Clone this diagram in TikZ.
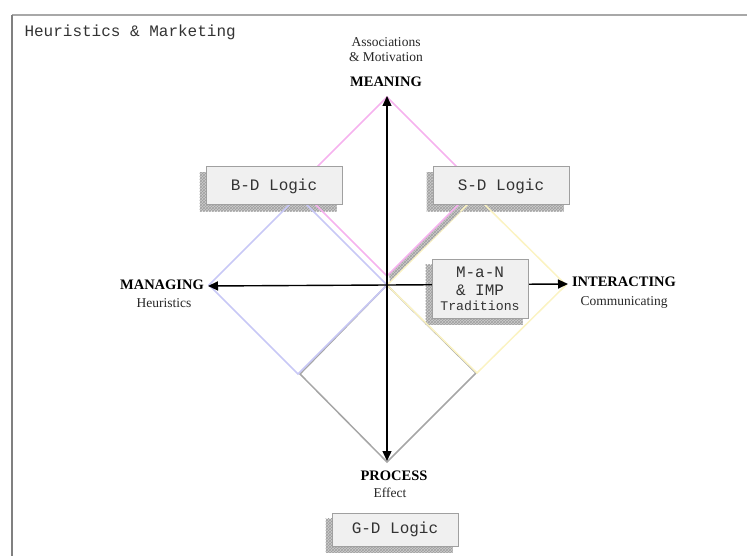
\documentclass[tikz,border=0pt]{standalone}
\usepackage{fontspec}
\setmainfont{Liberation Serif}
\newfontfamily\monofont{Liberation Mono}
\usetikzlibrary{arrows.meta,patterns,backgrounds}
\definecolor{framegray}{HTML}{A8A8A8}
\definecolor{frameleft}{HTML}{808080}
\definecolor{boxfill}{HTML}{F0F0F0}
\definecolor{boxline}{HTML}{A0A0A0}
\definecolor{meaningpink}{HTML}{F6B2EE}
\definecolor{managinglav}{HTML}{C8C8F6}
\definecolor{interactyel}{HTML}{FBF3C2}
\definecolor{processgray}{HTML}{A6A6A6}
\tikzset{
  logicbox/.style={draw=boxline, line width=1pt, fill=boxfill, inner sep=0pt,
    font=\fontsize{16}{18}\selectfont\monofont, text=black!80},
  hatchband/.style={fill=gray!40, postaction={pattern=crosshatch, pattern color=gray!75}},
  axis/.style={line width=1.4pt, -{Triangle[length=10pt,width=9pt]}},
  quad/.style={line width=1.5pt, line join=miter},
  small/.style={font=\fontsize{13.5}{15}\selectfont, anchor=base, text=black!85},
  heading/.style={font=\fontsize{14.5}{16}\selectfont\bfseries, anchor=base},
}
\begin{document}
\begin{tikzpicture}[x=1pt,y=-1pt]
\useasboundingbox (0,0) rectangle (747,556);

% frame edges
\draw[framegray, line width=1.5pt] (12,15) -- (747,15);
\draw[frameleft, line width=1.5pt] (12,15) -- (12,556);
\node[font=\fontsize{16}{18}\selectfont\monofont, text=black!80, anchor=base west] (title) at (21,37) {Heuristics \& Marketing};

% centre of the cross
\coordinate (c) at (387,285);

% the four quadrant diamonds (process first, so the others sit on top)
\draw[quad, processgray] (c) -- (300,374) -- (387,462) -- (476,373) -- cycle;
\draw[quad, managinglav] (c) -- (298,196) -- (209,285) -- (298,374) -- cycle;
\draw[quad, interactyel] (c) -- (476,196) -- (566,285) -- (477,373) -- cycle;
% shaded band between the meaning and interacting edges
\path[hatchband] (390,281) -- (389,274) -- (454,210) -- (461,211) -- cycle;
\draw[quad, meaningpink] (387,276) coordinate (pB) -- (297.5,186.5) coordinate (pL)
  -- (387,97) coordinate (pT) -- (476.5,186.5) coordinate (pR) -- cycle;

% axes
\coordinate (tipN) at (387,96);
\coordinate (tipS) at (387,461);
\coordinate (tipW) at (208,286);
\coordinate (tipE) at (568,284);
\draw[axis] (c) -- (tipN);
\draw[axis] (c) -- (tipS);
\draw[axis] (c) -- (tipW);
\draw[axis] (c) -- (tipE);

% axis labels
\node[small] (assoc) at (386,47) {Associations};
\node[small] (motiv) at (386,62) {\& Motivation};
\node[heading] (meaning) at (386,87) {MEANING};
\node[heading] (managing) at (162,289) {MANAGING};
\node[small] (heur) at (164,307) {Heuristics};
\node[heading] (interacting) at (624,287) {INTERACTING};
\node[small] (comm) at (624,305) {Communicating};
\node[heading] (process) at (394,480) {PROCESS};
\node[small] (effect) at (390,497) {Effect};

% logic boxes
\node[logicbox, minimum width=136pt, minimum height=38pt] (bd) at (274,186) {B-D Logic};
\node[logicbox, minimum width=136pt, minimum height=38pt] (sd) at (501,186) {S-D Logic};
\node[logicbox, minimum width=96pt, minimum height=59pt, align=center] (man) at (480,288.5)
  {M-a-N\\[0pt]\& IMP\\[-3pt]{\fontsize{13.2}{15}\selectfont Traditions}};
\node[logicbox, minimum width=126pt, minimum height=33pt] (gd) at (395,529.5) {G-D Logic};

% drop shadows behind the boxes
\begin{scope}[on background layer]
\foreach \b in {bd,sd,man,gd}{
  \path[hatchband] ([shift={(-6,6)}]\b.south west) rectangle ([shift={(-6,6)}]\b.north east);
}
\end{scope}
\end{tikzpicture}
\end{document}
